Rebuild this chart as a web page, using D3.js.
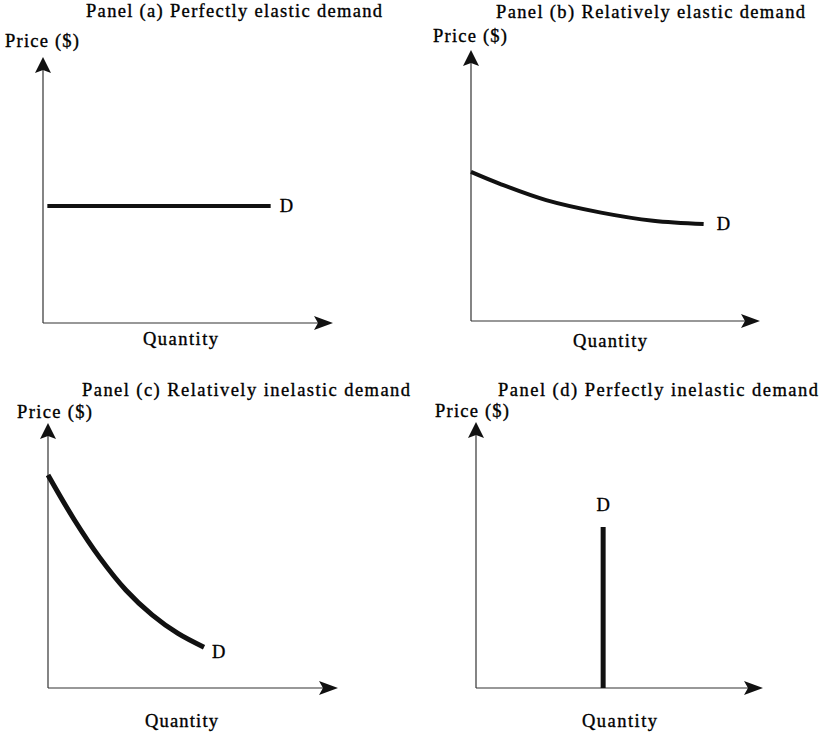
<!DOCTYPE html>
<html>
<head>
<meta charset="utf-8">
<script src="https://cdn.jsdelivr.net/npm/d3@7"></script>
<style>
  body { margin: 0; background: #fff; }
  svg text { font-family: "Liberation Serif", "Times New Roman", serif; font-size: 18.5px; fill: #000; stroke: #000; stroke-width: 0.35px; }
</style>
</head>
<body>
<div id="chart"></div>
<script>
const width = 829;
const height = 734;

/* ------------------------
   DATA
   quantity / price in axis units: 0 = origin, 100 = arrow tip
-------------------------*/
const titles = [
    "Panel (a) Perfectly elastic demand",
    "Panel (b) Relatively elastic demand",
    "Panel (c) Relatively inelastic demand",
    "Panel (d) Perfectly inelastic demand"
];
const yLabel = "Price ($)";
const xLabel = "Quantity";
const curveLabel = "D";

const qtyA = [1.5, 78.5];
const priceA = [44, 44];

const qtyB = [0, 10, 26, 45, 63, 80.5];
const priceB = [55, 50.6, 44.6, 40, 37, 35.8];

const qtyC = [0, 9, 17.9, 26.9, 35.9, 44.8, 53.8];
const priceC = [80.4, 63.6, 49.1, 36.9, 27.6, 20.6, 15.4];

const qtyD = [44.3, 44.3];
const priceD = [0, 60.5];

/* ------------------------
   LAYOUT (pixels)
-------------------------*/
const panels = [
    { qty: qtyA, price: priceA, ox: 43, oy: 323, tx: 333, ty: 57,
      title: [86, 17, 296], ylab: [5, 47, 74], xlab: [143, 345, 75], dl: [9, 6, "start"], sw: 4 },
    { qty: qtyB, price: priceB, ox: 471, oy: 321, tx: 760, ty: 50,
      title: [496, 18, 309], ylab: [433, 42, 74], xlab: [573, 347, 74], dl: [13, 6, "start"], sw: 4 },
    { qty: qtyC, price: priceC, ox: 48, oy: 688, tx: 338, ty: 423,
      title: [82, 396, 328], ylab: [17, 418, 75], xlab: [145, 727, 73], dl: [8, 11, "start"], sw: 5 },
    { qty: qtyD, price: priceD, ox: 476, oy: 688, tx: 763, ty: 422,
      title: [498, 396, 320], ylab: [435, 417, 74], xlab: [582, 727, 75], dl: [0, -16, "middle"], sw: 5 }
];

const svg = d3.select("#chart")
    .append("svg")
    .attr("width", width)
    .attr("height", height);

function label(g, str, pos) {
    g.append("text")
        .attr("x", pos[0])
        .attr("y", pos[1])
        .attr("textLength", pos[2])
        .attr("lengthAdjust", "spacing")
        .text(str);
}

panels.forEach((p, i) => {
    const g = svg.append("g");

    const x = d3.scaleLinear().domain([0, 100]).range([p.ox, p.tx]);
    const y = d3.scaleLinear().domain([0, 100]).range([p.oy, p.ty]);

    // axes
    g.append("line")
        .attr("x1", x(0)).attr("y1", y(0))
        .attr("x2", x(0)).attr("y2", y(100) + 8)
        .attr("stroke", "#333").attr("stroke-width", 1.2);
    g.append("line")
        .attr("x1", x(0)).attr("y1", y(0))
        .attr("x2", x(100) - 8).attr("y2", y(0))
        .attr("stroke", "#333").attr("stroke-width", 1.2);

    // arrow heads
    const ax = x(0), ay = y(100);
    g.append("path")
        .attr("d", `M${ax},${ay} L${ax + 8},${ay + 16} L${ax},${ay + 13} L${ax - 8},${ay + 16} Z`)
        .attr("fill", "#111");
    const bx = x(100), by = y(0);
    g.append("path")
        .attr("d", `M${bx},${by} L${bx - 19},${by - 7} L${bx - 15},${by} L${bx - 19},${by + 7} Z`)
        .attr("fill", "#111");

    // demand curve
    const pts = p.qty.map((q, k) => ({ q: q, v: p.price[k] }));
    const line = d3.line()
        .x(d => x(d.q))
        .y(d => y(d.v))
        .curve(pts.length > 2 ? d3.curveCatmullRom : d3.curveLinear);

    g.append("path")
        .datum(pts)
        .attr("d", line)
        .attr("fill", "none")
        .attr("stroke", "#111")
        .attr("stroke-width", p.sw);

    // "D" at the end of the curve (top end for the vertical one)
    const end = pts.reduce((a, b) => (b.q > a.q || (b.q === a.q && b.v > a.v)) ? b : a);
    g.append("text")
        .attr("x", x(end.q) + p.dl[0])
        .attr("y", y(end.v) + p.dl[1])
        .attr("text-anchor", p.dl[2])
        .text(curveLabel);

    label(g, titles[i], p.title);
    label(g, yLabel, p.ylab);
    label(g, xLabel, p.xlab);
});
</script>
</body>
</html>
